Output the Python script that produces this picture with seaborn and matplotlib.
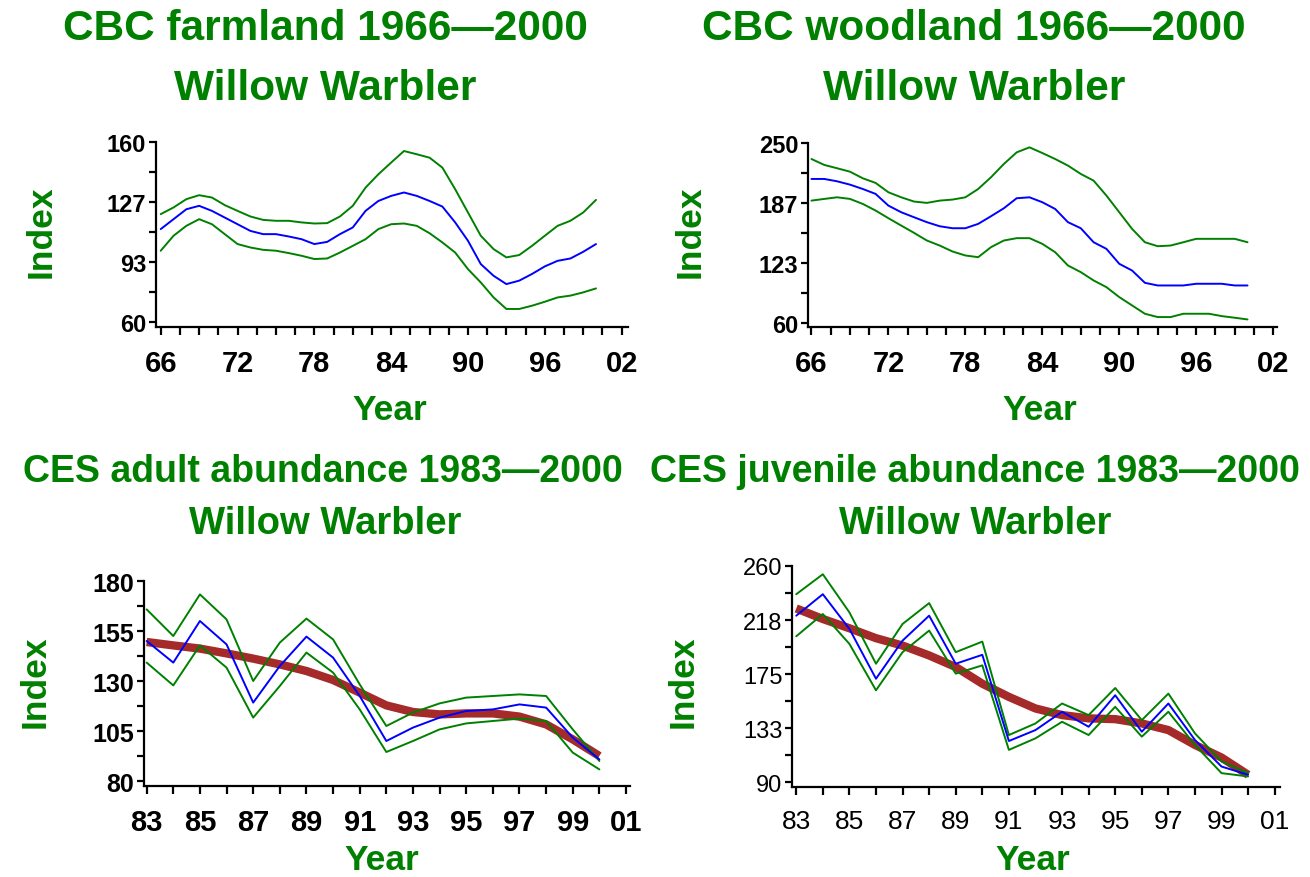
import numpy as np
import pandas as pd
import matplotlib
matplotlib.use("Agg")
import matplotlib.pyplot as plt
import seaborn as sns
from matplotlib.ticker import FixedLocator, FixedFormatter

sns.set_theme(style="ticks")
plt.rcParams['font.family'] = ['Liberation Sans', 'DejaVu Sans']

# ---------------- data ----------------
cbc_years = list(range(1966, 2001))

farm_index = [111.7, 117.2, 122.7, 124.6, 121.8, 118.1, 114.4, 110.7, 108.9, 108.9,
              107.6, 106.1, 103.4, 104.6, 108.9, 112.6, 121.8, 127.3, 130.1, 132.0,
              130.1, 127.3, 124.2, 115.4, 105.2, 92.3, 85.8, 81.2, 83.1, 86.8,
              91.0, 94.1, 95.4, 99.1, 103.4]
farm_upper = [120.0, 123.7, 128.3, 130.5, 129.2, 125.0, 121.8, 118.7, 116.8, 116.3,
              116.3, 115.4, 114.8, 115.0, 118.7, 124.6, 134.7, 142.1, 148.6, 155.0,
              153.2, 151.3, 145.8, 133.8, 120.9, 108.0, 100.6, 96.0, 97.3, 102.4,
              108.0, 113.5, 116.3, 120.9, 127.9]
farm_lower = [99.7, 108.0, 113.5, 117.2, 114.4, 108.9, 103.4, 101.5, 100.2, 99.7,
              98.4, 96.9, 95.1, 95.4, 98.7, 102.4, 106.1, 111.7, 114.4, 114.8,
              113.5, 109.4, 104.3, 98.7, 89.5, 82.1, 73.8, 67.4, 67.4, 69.2,
              71.4, 73.8, 74.8, 76.6, 78.8]

wood_index = [212.0, 212.0, 209.5, 206.0, 201.4, 196.2, 183.8, 176.8, 171.5, 166.3,
              162.0, 159.9, 159.9, 164.5, 172.6, 181.0, 191.6, 192.6, 187.4, 180.3,
              166.3, 159.9, 145.1, 138.1, 122.3, 115.2, 102.2, 99.4, 99.4, 99.4,
              101.2, 101.2, 101.2, 99.4, 99.4]
wood_upper = [233.1, 226.8, 223.3, 219.7, 212.7, 207.8, 197.9, 192.6, 188.1, 186.7,
              189.1, 190.2, 192.6, 201.4, 213.8, 227.8, 240.1, 245.4, 239.4, 233.1,
              226.1, 217.3, 210.2, 194.4, 176.8, 159.2, 145.1, 140.9, 141.6, 145.1,
              148.7, 148.7, 148.7, 148.7, 145.1]
wood_lower = [189.1, 190.9, 192.6, 190.9, 185.6, 178.6, 170.5, 162.7, 155.0, 146.9,
              141.6, 135.3, 131.1, 129.3, 139.9, 146.9, 149.4, 149.4, 143.4, 134.6,
              120.5, 113.5, 104.7, 97.6, 87.1, 78.3, 69.5, 66.0, 66.0, 69.5,
              69.5, 69.5, 67.0, 65.3, 63.5]

ces_years = list(range(1983, 2001))

adult_index = [150.0, 139.2, 160.0, 148.3, 119.2, 137.5, 152.2, 141.7, 122.5, 100.0,
               106.7, 111.7, 115.0, 115.8, 118.3, 116.7, 101.7, 90.8]
adult_upper = [165.8, 152.5, 173.3, 160.8, 130.0, 149.2, 161.2, 150.8, 128.3, 107.5,
               114.2, 118.8, 121.7, 122.5, 123.3, 122.5, 105.8, 90.0]
adult_lower = [139.2, 127.8, 147.8, 136.7, 111.7, 127.5, 144.2, 134.2, 115.8, 94.5,
               100.0, 105.8, 108.8, 110.0, 111.2, 110.0, 94.2, 85.8]
adult_trend = [149.5, 147.8, 146.2, 143.8, 141.2, 138.3, 135.0, 130.5, 124.2, 117.8,
               114.5, 113.3, 113.8, 113.8, 112.2, 108.3, 100.8, 92.5]

juv_index = [220.9, 237.8, 210.5, 171.3, 201.3, 220.9, 183.1, 190.1, 122.3, 130.9,
             145.3, 133.5, 158.3, 129.6, 151.8, 123.1, 102.2, 95.7]
juv_upper = [237.8, 253.5, 223.5, 183.1, 214.4, 230.8, 192.2, 200.5, 127.0, 136.1,
             151.8, 142.7, 164.0, 138.7, 159.6, 128.3, 106.2, 97.0]
juv_lower = [204.7, 222.2, 198.7, 162.2, 192.2, 209.2, 175.3, 181.8, 115.3, 124.4,
             137.4, 127.0, 149.2, 125.7, 145.3, 119.2, 97.0, 94.4]
juv_trend = [226.6, 218.3, 211.0, 203.2, 197.4, 189.6, 180.5, 167.4, 157.0, 147.9,
             142.7, 140.1, 139.5, 136.1, 130.9, 119.2, 109.3, 95.7]

farm_yticks = [60, 93.33, 126.67, 160]
wood_yticks = [60, 123.33, 186.67, 250]
adult_yticks = [80, 105, 130, 155, 180]
juv_yticks = [90, 132.5, 175, 217.5, 260]

titles = ["CBC farmland 1966\u20142000", "CBC woodland 1966\u20142000",
          "CES adult abundance 1983\u20142000", "CES juvenile abundance 1983\u20142000"]
species = "Willow Warbler"

# ---------------- style ----------------
GREEN = "#008000"
BLUE = "#0000FF"
RED = "#A52A2A"

W, H = 1310, 878
fig = plt.figure(figsize=(W / 100, H / 100), dpi=100)
fig.patch.set_facecolor("white")


def ax_at(l, t, r, b):
    return fig.add_axes([l / W, 1 - b / H, (r - l) / W, (b - t) / H])


def fmt_year(v):
    return f"{int(round(v)) % 100:02d}"


def style_axes(ax, xlim, ylim, yticks, xmajor, xminor, ybold, xbold, yfs, xfs):
    ax.set_facecolor("white")
    ax.set_xlim(*xlim)
    ax.set_ylim(*ylim)
    for s in ["top", "right"]:
        ax.spines[s].set_visible(False)
    for s in ["left", "bottom"]:
        ax.spines[s].set_linewidth(1.6)
        ax.spines[s].set_color("black")
    ax.spines["left"].set_bounds(ylim[0], yticks[-1])
    ax.yaxis.set_major_locator(FixedLocator(yticks))
    ax.yaxis.set_major_formatter(FixedFormatter([str(int(v + 0.5)) for v in yticks]))
    ymin = [(a + b) / 2 for a, b in zip(yticks[:-1], yticks[1:])]
    ax.yaxis.set_minor_locator(FixedLocator(ymin))
    ax.xaxis.set_major_locator(FixedLocator(xmajor))
    ax.xaxis.set_major_formatter(FixedFormatter([fmt_year(v) for v in xmajor]))
    ax.xaxis.set_minor_locator(FixedLocator(xminor))
    ax.tick_params(axis="both", which="both", direction="out", color="black", width=1.6)
    ax.tick_params(axis="y", which="both", length=5, pad=2)
    ax.tick_params(axis="x", which="both", length=6, pad=10)
    for lab in ax.get_yticklabels():
        lab.set_fontsize(yfs)
        lab.set_fontweight("bold" if ybold else "normal")
        lab.set_color("black")
    for lab in ax.get_xticklabels():
        lab.set_fontsize(xfs)
        lab.set_fontweight("bold" if xbold else "normal")
        lab.set_color("black")
    ax.set_xlabel("")
    ax.set_ylabel("")
    ax.grid(False)


def draw_band(ax, years, idx, up, lo, trend=None):
    if trend is not None:
        sns.lineplot(x=years, y=trend, ax=ax, color=RED, linewidth=6.0, zorder=1,
                     solid_capstyle="butt")
    sns.lineplot(x=years, y=up, ax=ax, color=GREEN, linewidth=1.4, zorder=2)
    sns.lineplot(x=years, y=lo, ax=ax, color=GREEN, linewidth=1.4, zorder=2)
    sns.lineplot(x=years, y=idx, ax=ax, color=BLUE, linewidth=1.4, zorder=3)


# Panel 1: farmland
ax1 = ax_at(156, 143, 628, 328)
draw_band(ax1, cbc_years, farm_index, farm_upper, farm_lower)
style_axes(ax1, (1965.63, 2002.5), (57.4, 160.0), farm_yticks,
           list(range(1966, 2003, 6)), list(np.arange(1966, 2002.1, 1.5)),
           True, True, 17, 21)

# Panel 2: woodland
ax2 = ax_at(808, 144, 1277, 328)
draw_band(ax2, cbc_years, wood_index, wood_upper, wood_lower)
style_axes(ax2, (1965.73, 2002.3), (55.5, 250.0), wood_yticks,
           list(range(1966, 2003, 6)), list(np.arange(1966, 2002.1, 1.5)),
           True, True, 17, 21)

# Panel 3: CES adult
ax3 = ax_at(144, 582, 630, 787)
draw_band(ax3, ces_years, adult_index, adult_upper, adult_lower, adult_trend)
style_axes(ax3, (1982.9, 2001.15), (77.5, 180.0), adult_yticks,
           list(range(1983, 2002, 2)), list(range(1983, 2002)),
           True, True, 18, 21)

# Panel 4: CES juvenile
ax4 = ax_at(792, 567, 1280, 788)
draw_band(ax4, ces_years, juv_index, juv_upper, juv_lower, juv_trend)
style_axes(ax4, (1982.84, 2001.2), (86.1, 260.0), juv_yticks,
           list(range(1983, 2002, 2)), list(range(1983, 2002)),
           False, False, 17, 19)


def ftext(x, y, s, **kw):
    fig.text(x / W, 1 - y / H, s, color=GREEN, fontweight="bold",
             ha="center", va="center", **kw)


TOP_FS = 30.5
BOT_FS = 27
ftext(325, 29, titles[0], fontsize=TOP_FS)
ftext(325, 89, species, fontsize=TOP_FS)
ftext(974, 29, titles[1], fontsize=TOP_FS)
ftext(974, 89, species, fontsize=TOP_FS)
ftext(323, 472, titles[2], fontsize=BOT_FS)
ftext(325, 524, species, fontsize=BOT_FS + 0.5)
ftext(975, 472, titles[3], fontsize=BOT_FS)
ftext(975, 524, species, fontsize=BOT_FS + 0.5)

LFS = 25.5
ftext(41, 232, "Index", fontsize=LFS, rotation=90)
ftext(690, 232, "Index", fontsize=LFS, rotation=90)
ftext(35, 682, "Index", fontsize=LFS, rotation=90)
ftext(683, 682, "Index", fontsize=LFS, rotation=90)
ftext(390, 411, "Year", fontsize=LFS)
ftext(1040, 411, "Year", fontsize=LFS)
ftext(382, 861, "Year", fontsize=LFS)
ftext(1033, 861, "Year", fontsize=LFS)

fig.savefig("out.png", dpi=100, facecolor="white")
